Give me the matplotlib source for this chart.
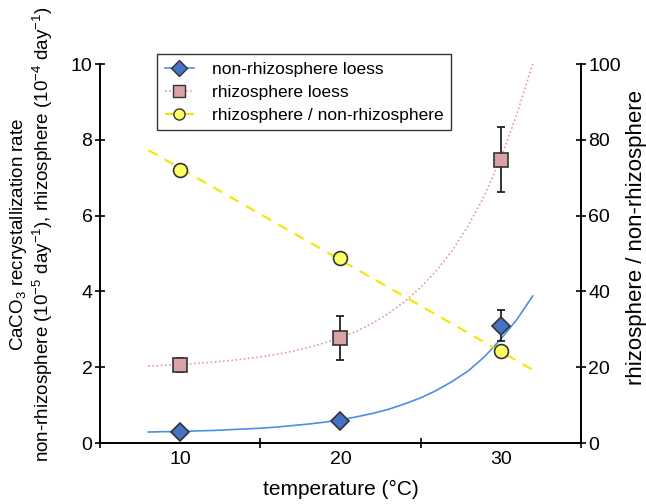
import numpy as np
import matplotlib
matplotlib.use("Agg")
import matplotlib.pyplot as plt

plt.rcParams['font.family'] = ['Liberation Sans', 'DejaVu Sans']
plt.rcParams['mathtext.fontset'] = 'custom'
plt.rcParams['mathtext.rm'] = 'Liberation Sans'
plt.rcParams['mathtext.it'] = 'Liberation Sans'

# measured points
temp = [10, 20, 30]
non_rhizo = [0.30, 0.58, 3.10]
non_rhizo_err = [0.0, 0.0, 0.40]
rhizo = [2.05, 2.78, 7.47]
rhizo_err = [0.18, 0.58, 0.86]
ratio = [72.0, 48.8, 24.2]

# fitted curves, every 1 °C
fit_t = list(range(8, 33))
fit_non_rhizo = [0.29, 0.30, 0.30, 0.32, 0.33, 0.35, 0.37, 0.39, 0.42, 0.46,
                 0.50, 0.55, 0.61, 0.69, 0.78, 0.89, 1.03, 1.19, 1.39, 1.63,
                 1.91, 2.28, 2.74, 3.25, 3.88]
fit_rhizo = [2.03, 2.05, 2.07, 2.10, 2.13, 2.17, 2.22, 2.27, 2.34, 2.42,
             2.52, 2.64, 2.78, 2.95, 3.16, 3.42, 3.73, 4.10, 4.55, 5.09,
             5.75, 6.54, 7.50, 8.66, 10.0]
fit_ratio_t = [8, 32]
fit_ratio = [77.3, 19.3]

fig = plt.figure(figsize=(6.46, 5.04), dpi=100)
ax = fig.add_axes([0.155, 0.121, 0.744, 0.752])
ax2 = ax.twinx()

blue_line = '#4a90e2'
blue_fill = '#4472c4'
pink_line = '#e49aa8'
pink_fill = '#d9a2a6'
yel_line = '#f2e600'
yel_fill = '#ffff66'
edge = '#333333'

# curves
ax.plot(fit_t, fit_non_rhizo, color=blue_line, lw=1.2, zorder=2)
ax.plot(fit_t, fit_rhizo, color=pink_line, lw=1.2, ls=(0, (1, 1.5)), zorder=2)

# points with errors
ax.errorbar(temp, rhizo, yerr=rhizo_err, fmt='none', ecolor='#222222',
            elinewidth=1.3, capsize=3, capthick=1.3, zorder=3)
ax.errorbar(temp, non_rhizo, yerr=non_rhizo_err, fmt='none', ecolor='#222222',
            elinewidth=1.3, capsize=3, capthick=1.3, zorder=3)
ax.plot(temp, non_rhizo, ls='none', marker='D', ms=9, mfc=blue_fill,
        mec=edge, mew=1.2, zorder=4)
ax.plot(temp, rhizo, ls='none', marker='s', ms=10, mfc=pink_fill,
        mec=edge, mew=1.2, zorder=4)

ax2.plot(fit_ratio_t, fit_ratio, color=yel_line, lw=1.5, ls=(0, (5, 4)), zorder=2)
ax2.plot(temp, ratio, ls='none', marker='o', ms=10, mfc=yel_fill,
         mec=edge, mew=1.2, zorder=4)

ax.set_xlim(5, 35)
ax.set_ylim(0, 10)
ax2.set_ylim(0, 100)

ax.set_xticks([5, 15, 25, 35])
ax.set_xticklabels([])
ax.set_xticks(temp, minor=True)
ax.set_xticklabels([str(t) for t in temp], minor=True)
ax.tick_params(axis='x', which='major', direction='inout', length=7, width=1.2)
ax.tick_params(axis='x', which='minor', length=0, labelsize=14, pad=6)
ax.set_yticks([0, 2, 4, 6, 8, 10])
ax.tick_params(axis='y', direction='inout', length=7, width=1.2, labelsize=14, pad=2)
ax2.set_yticks([0, 20, 40, 60, 80, 100])
ax2.tick_params(axis='y', direction='inout', length=7, width=1.2, labelsize=14, pad=2)

for a in (ax, ax2):
    a.spines['top'].set_visible(False)
    for s in ('left', 'right', 'bottom'):
        a.spines[s].set_linewidth(1.2)

ax.set_xlabel('temperature (°C)', fontsize=15, labelpad=8)
ax.set_ylabel('CaCO$_3$ recrystallization rate\n'
              'non-rhizosphere (10$^{-5}$ day$^{-1}$), rhizosphere (10$^{-4}$ day$^{-1}$)',
              fontsize=13.5, linespacing=1.1)
ax.yaxis.set_label_coords(-0.094, 0.55)
ax2.set_ylabel('rhizosphere / non-rhizosphere', fontsize=16)
ax2.yaxis.set_label_coords(1.095, 0.542)

# legend
h1, = ax.plot([], [], color=blue_line, lw=1.2, marker='D', ms=8, mfc=blue_fill, mec=edge)
h2, = ax.plot([], [], color=pink_line, lw=1.2, ls=(0, (1, 1.5)), marker='s', ms=8,
              mfc=pink_fill, mec=edge)
h3, = ax.plot([], [], color=yel_line, lw=1.5, ls=(0, (5, 4)), marker='o', ms=8,
              mfc=yel_fill, mec=edge)
leg = ax2.legend([h1, h2, h3],
                 ['non-rhizosphere loess', 'rhizosphere loess', 'rhizosphere / non-rhizosphere'],
                 loc='upper left', bbox_to_anchor=(0.1, 1.05), fontsize=12.5,
                 frameon=True, fancybox=False, handlelength=1.7, handletextpad=1.0,
                 borderpad=0.45, labelspacing=0.45)
leg.get_frame().set_edgecolor('black')
leg.get_frame().set_linewidth(1.0)

fig.savefig('out.png', dpi=100)
